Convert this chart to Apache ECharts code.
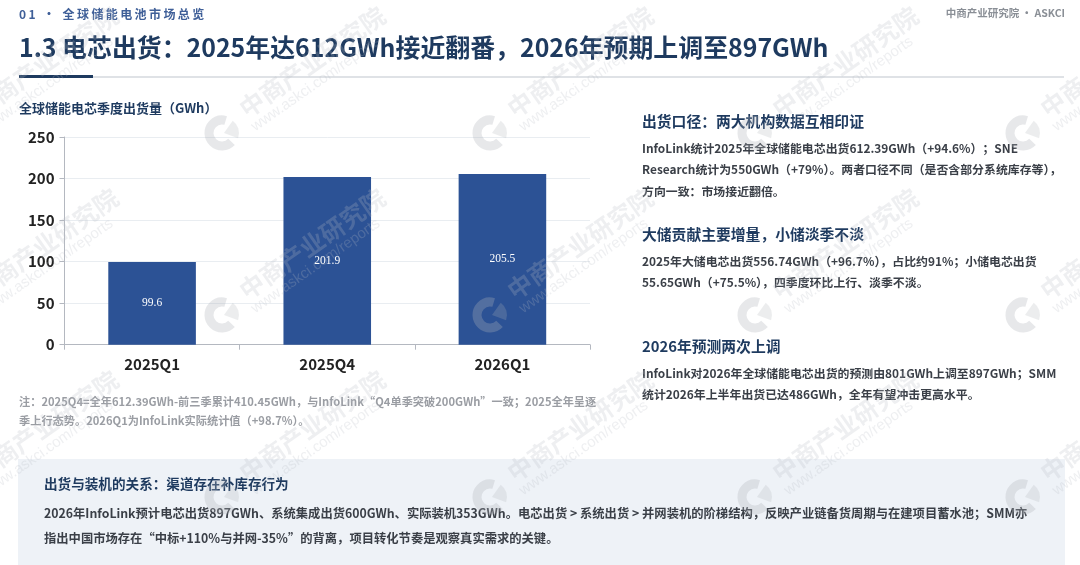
<!DOCTYPE html>
<html><head><meta charset="utf-8">
<style>html,body{margin:0;padding:0;background:#fff}#c{width:1080px;height:565px}</style>
<script src="https://cdn.jsdelivr.net/npm/echarts@6/dist/echarts.min.js"></script>
</head><body><div id="c"></div>
<script>
const categories = ['2025Q1','2025Q4','2026Q1'];
const shipments = [99.6,201.9,205.5];
const kicker = '01 \u00B7 全球储能电池市场总览';
const source = '中商产业研究院 \u00B7 ASKCI';
const pageTitle = '1.3 电芯出货\uFF1A2025年达612GWh接近翻番\uFF0C2026年预期上调至897GWh';
const chartTitle = '全球储能电芯季度出货量\uFF08GWh\uFF09';
const noteLines = ['注\uFF1A2025Q4=全年612.39GWh-前三季累计410.45GWh\uFF0C与InfoLink\u201CQ4单季突破200GWh\u201D一致\uFF1B2025全年呈逐','季上行态势。2026Q1为InfoLink实际统计值\uFF08+98.7%\uFF09。'];
const sideHeads = ['出货口径\uFF1A两大机构数据互相印证','大储贡献主要增量\uFF0C小储淡季不淡','2026年预测两次上调'];
const sideBodies = [
 ['InfoLink统计2025年全球储能电芯出货612.39GWh\uFF08+94.6%\uFF09\uFF1BSNE','Research统计为550GWh\uFF08+79%\uFF09。两者口径不同\uFF08是否含部分系统库存等\uFF09\uFF0C','方向一致\uFF1A市场接近翻倍。'],
 ['2025年大储电芯出货556.74GWh\uFF08+96.7%\uFF09\uFF0C占比约91%\uFF1B小储电芯出货','55.65GWh\uFF08+75.5%\uFF09\uFF0C四季度环比上行、淡季不淡。'],
 ['InfoLink对2026年全球储能电芯出货的预测由801GWh上调至897GWh\uFF1BSMM','统计2026年上半年出货已达486GWh\uFF0C全年有望冲击更高水平。']];
const boxHead = '出货与装机的关系\uFF1A渠道存在补库存行为';
const boxLines = ['2026年InfoLink预计电芯出货897GWh、系统集成出货600GWh、实际装机353GWh。电芯出货 > 系统出货 > 并网装机的阶梯结构\uFF0C反映产业链备货周期与在建项目蓄水池\uFF1BSMM亦','指出中国市场存在\u201C中标+110%与并网-35%\u201D的背离\uFF0C项目转化节奏是观察真实需求的关键。'];
const wmName = '中商产业研究院';
const wmUrl = 'www.askci.com/reports';

const F = '"Noto Sans CJK SC","Noto Sans",sans-serif';
const NAVY = '#1e3a5f';
function txt(x,y,text,size,color,weight,z,align){
  return {type:'text',x,y,z:z||5,silent:true,style:{text,fontFamily:F,fontSize:size,fontWeight:weight||'normal',fill:color,align:align||'left',verticalAlign:'middle'}};
}
const g = [];
g.push({type:'rect',z:0,shape:{x:18,y:459,width:1047,height:106},style:{fill:'#eef2f7'}});
g.push({type:'rect',z:1,shape:{x:19,y:76,width:1045,height:2},style:{fill:'#dfe2e6'}});
g.push({type:'rect',z:2,shape:{x:19,y:75,width:74,height:3},style:{fill:NAVY}});
g.push(txt(19,14.5,kicker.split('').join('\u2009'),12,'#3f5f98','bold'));
g.push(txt(1065,13,source,10.5,'#8a8f96','bold',5,'right'));
g.push(txt(19,48,pageTitle,24.9,NAVY,'bold'));
g.push(txt(19,108,chartTitle,13,NAVY,'bold'));
noteLines.forEach((l,i)=>g.push(txt(19,402+i*19,l,11.2,'#9a9da3','bold')));
const headY=[121,234,346], bodyY=[[148,169,191],[261,282],[373,394]];
sideHeads.forEach((h,i)=>{
  g.push(txt(642,headY[i],h,14.8,NAVY,'bold'));
  sideBodies[i].forEach((l,j)=>g.push(txt(642,bodyY[i][j],l,11.9,'#3a3f47','bold')));
});
g.push(txt(44,484,boxHead,13.6,NAVY,'bold'));
boxLines.forEach((l,i)=>g.push(txt(44,513+i*25,l,12.3,'#3a3f47','bold')));

// watermark layer
const cols=[-45,222,490,755,1023], rows=[133,315,497];
const R = Math.PI*35/180;
rows.forEach(cy=>cols.forEach(cx=>{
  g.push({type:'arc',z:20,silent:true,shape:{cx:cx,cy:cy,r:13,startAngle:0.75,endAngle:5.0,clockwise:true},style:{fill:'none',stroke:'rgba(175,180,185,0.30)',lineWidth:9}});
  g.push({type:'sector',z:20,silent:true,shape:{cx:cx+2,cy:cy,r0:0,r:15,startAngle:-0.95,endAngle:0.35,clockwise:true},style:{fill:'rgba(175,180,185,0.24)'}});
  g.push({type:'text',z:20,silent:true,x:cx+20,y:cy-22,rotation:R,style:{text:wmName,fontFamily:F,fontSize:24.5,fontWeight:'bold',fill:'rgba(185,190,195,0.24)',verticalAlign:'middle'}});
  g.push({type:'text',z:20,silent:true,x:cx+31,y:cy-5,rotation:R,style:{text:wmUrl,fontFamily:'"Liberation Sans",sans-serif',fontSize:15,fill:'rgba(185,190,195,0.24)',verticalAlign:'middle'}});
}));

const chart = echarts.init(document.getElementById('c'));
chart.setOption({
  animation:false,
  backgroundColor:'#fff',
  grid:{left:64.5,right:490,top:137,height:207.7,containLabel:false},
  xAxis:{type:'category',data:categories,boundaryGap:true,
    axisLine:{lineStyle:{color:'#b4b8c0',width:1}},
    axisTick:{show:true,length:5,lineStyle:{color:'#b4b8c0'}},
    axisLabel:{margin:12,fontFamily:F,fontSize:15,fontWeight:'bold',color:'#222'}},
  yAxis:{type:'value',min:0,max:250,interval:50,
    axisLine:{show:true,lineStyle:{color:'#b4b8c0',width:1}},
    axisTick:{show:true,length:5,lineStyle:{color:'#b4b8c0'}},
    axisLabel:{margin:10,fontFamily:F,fontSize:15,fontWeight:'bold',color:'#222'},
    splitLine:{lineStyle:{color:'#e9edf1',width:1}}},
  series:[{type:'bar',data:shipments,barWidth:'50%',itemStyle:{color:'#2c5295'},
    label:{show:true,position:'inside',fontFamily:'"Liberation Serif",serif',fontSize:11.5,color:'#fff'},z:2}],
  graphic:{elements:g}
});
</script></body></html>
